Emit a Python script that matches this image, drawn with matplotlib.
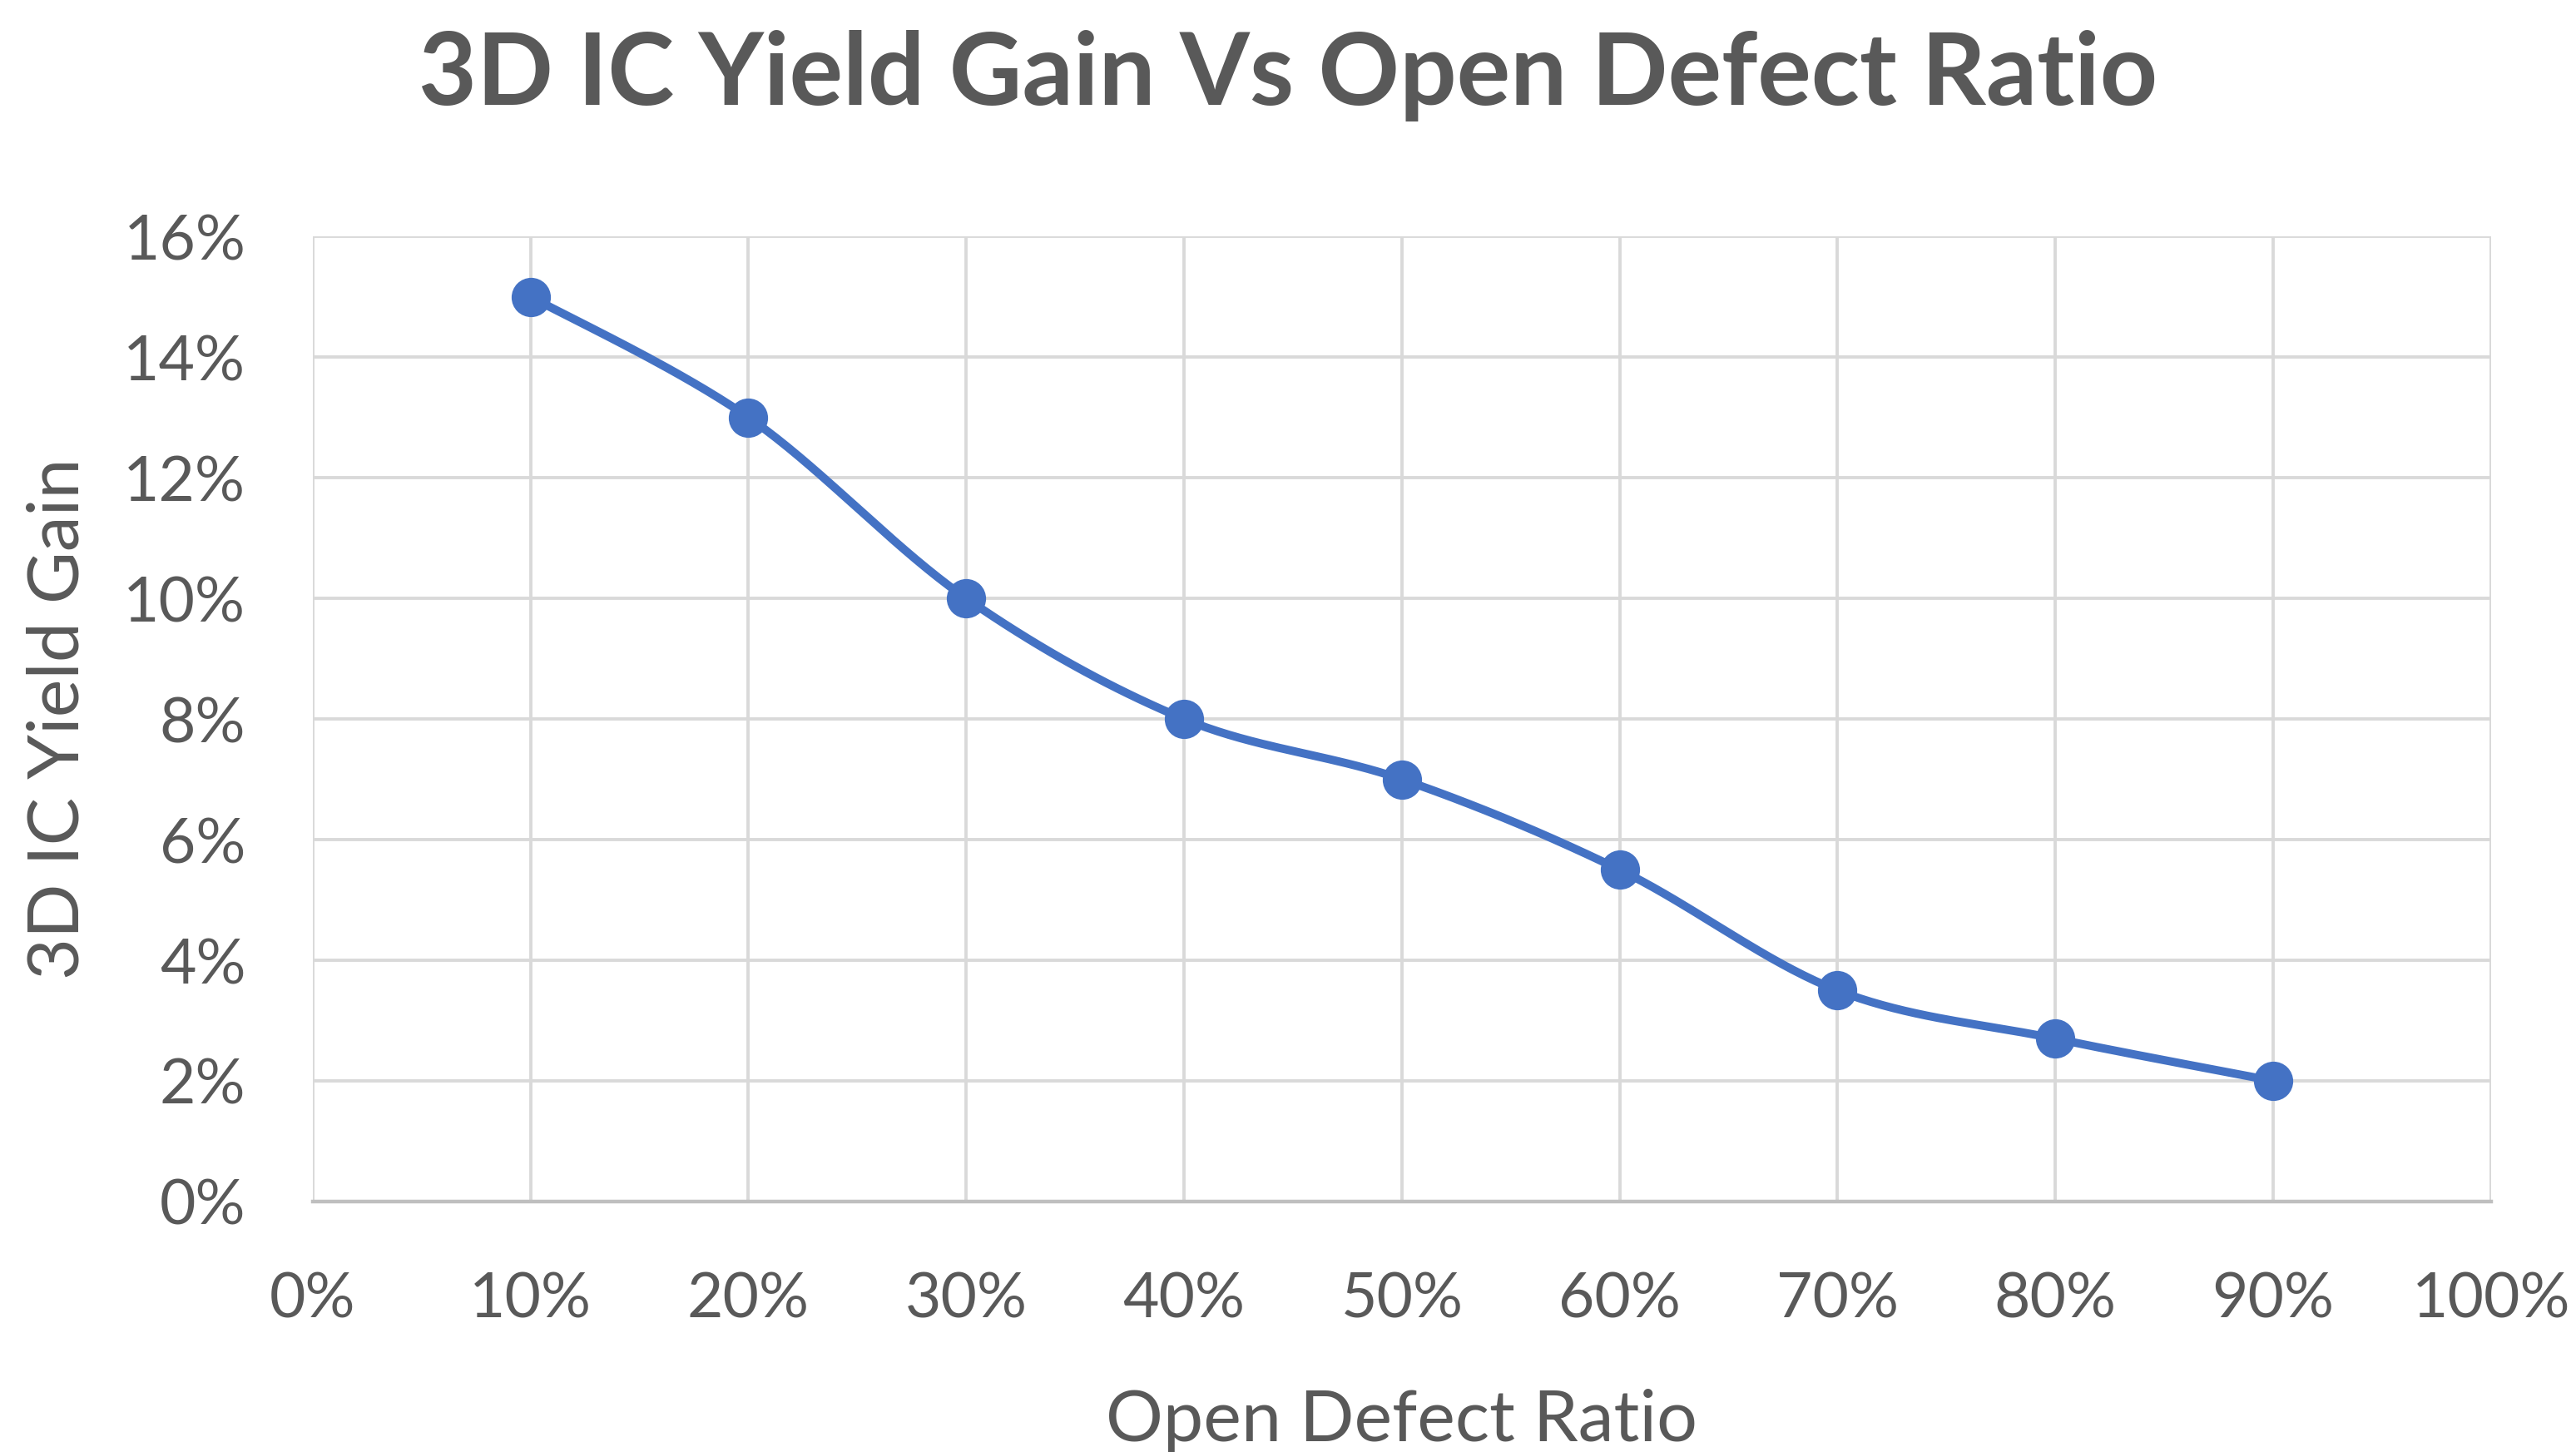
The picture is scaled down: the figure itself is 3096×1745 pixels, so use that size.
import numpy as np
import matplotlib
matplotlib.use("Agg")
import matplotlib.pyplot as plt
from matplotlib.ticker import FuncFormatter, MultipleLocator

# Data
open_defect_ratio = [10, 20, 30, 40, 50, 60, 70, 80, 90]   # %
yield_gain = [15.0, 13.0, 10.0, 8.0, 7.0, 5.5, 3.5, 2.7, 2.0]  # %
title = "3D IC Yield Gain Vs Open Defect Ratio"
xlabel = "Open Defect Ratio"
ylabel = "3D IC Yield Gain"

plt.rcParams['font.family'] = ['Lato', 'DejaVu Sans']
TEXT = "#595959"
BLUE = "#4472C4"

fig = plt.figure(figsize=(15.48, 8.725), dpi=200)
ax = fig.add_axes([0.1214, 0.1725, 0.967 - 0.1214, 0.8372 - 0.1725])

xlim = (0, 100)
ylim = (0, 16)
ax.set_xlim(*xlim)
ax.set_ylim(*ylim)

# Smoothed line (Bezier/Catmull-Rom in normalized display space, like Excel smoothing)
def smooth(xs, ys, n=40):
    xs = np.asarray(xs, float); ys = np.asarray(ys, float)
    sx = (xlim[1] - xlim[0]); sy = (ylim[1] - ylim[0]) / 0.44
    px = xs / sx; py = ys / sy
    P = np.column_stack([px, py])
    P = np.vstack([P[0], P, P[-1]])
    out = []
    for i in range(1, len(P) - 2):
        p0, p1, p2, p3 = P[i - 1], P[i], P[i + 1], P[i + 2]
        c1 = p1 + (p2 - p0) / 6.0
        c2 = p2 - (p3 - p1) / 6.0
        t = np.linspace(0, 1, n)[:, None]
        b = ((1 - t) ** 3) * p1 + 3 * ((1 - t) ** 2) * t * c1 + 3 * (1 - t) * t ** 2 * c2 + t ** 3 * p2
        out.append(b if i == 1 else b[1:])
    out = np.vstack(out)
    return out[:, 0] * sx, out[:, 1] * sy

sx_, sy_ = smooth(open_defect_ratio, yield_gain)
ax.plot(sx_, sy_, color=BLUE, lw=3.6, solid_capstyle='round', zorder=3)
ax.plot(open_defect_ratio, yield_gain, linestyle='none', marker='o', markersize=16,
        color=BLUE, zorder=4)

ax.xaxis.set_major_locator(MultipleLocator(10))
ax.yaxis.set_major_locator(MultipleLocator(2))
ax.xaxis.set_major_formatter(FuncFormatter(lambda v, p: f"{v:.0f}%"))
ax.yaxis.set_major_formatter(FuncFormatter(lambda v, p: f"{v:.0f}%"))

ax.grid(True, color="#D9D9D9", lw=1.4, zorder=0)
ax.set_axisbelow(True)
for s in ['top', 'right', 'left']:
    ax.spines[s].set_visible(False)
ax.spines['bottom'].set_color("#BFBFBF")
ax.spines['bottom'].set_linewidth(1.6)

ax.tick_params(axis='both', length=0, labelsize=27, labelcolor=TEXT)
ax.tick_params(axis='x', pad=30)
ax.tick_params(axis='y', pad=29)

ax.set_xlabel(xlabel, fontsize=31, color=TEXT, labelpad=26)
ax.set_ylabel(ylabel, fontsize=31, color=TEXT, labelpad=14)

fig.text(0.5, 0.948, title, ha='center', va='center', fontsize=43.5,
         fontweight='bold', color=TEXT)

fig.savefig("out.png", dpi=200, facecolor='white')
